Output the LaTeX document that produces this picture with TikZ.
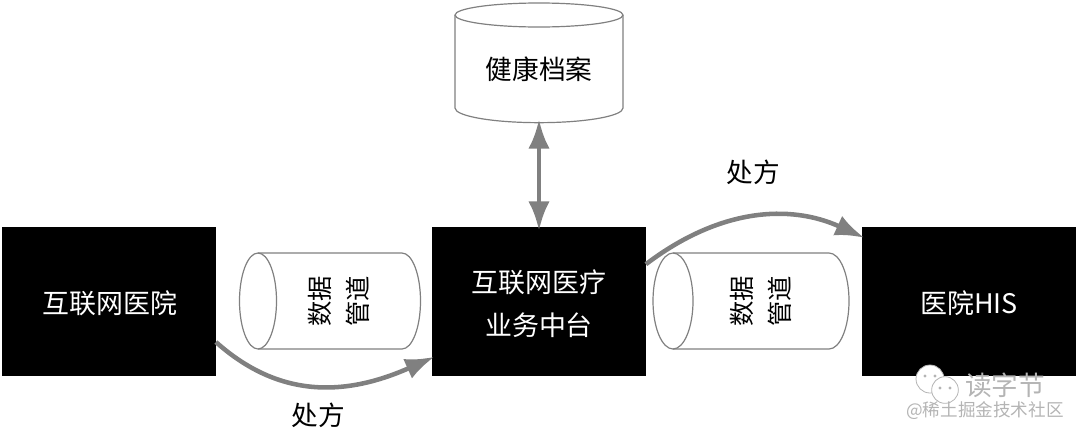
\documentclass[tikz,border=0pt]{standalone}
\usepackage{fontspec}
\setmainfont{Noto Sans CJK SC}
\usepackage{tikz}
\usetikzlibrary{arrows.meta}
\definecolor{flowgray}{HTML}{808080}
\definecolor{markgray}{HTML}{B4B4B4}

\begin{document}
\begin{tikzpicture}[x=0.75pt,y=-0.75pt,
    blackbox/.style={rectangle,draw=black,fill=black,minimum width=160pt,minimum height=111pt,inner sep=0pt},
    boxtext/.style={text=white,align=center,font=\fontsize{20.2}{32}\selectfont},
    frame/.style={rectangle,inner sep=0pt},
    outline/.style={draw=flowgray,line width=0.9pt},
    flow/.style={draw=flowgray,line width=3.4pt},
    label/.style={font=\fontsize{20}{24}\selectfont},
    pipetext/.style={rotate=90,align=center,font=\fontsize{19}{29}\selectfont},
    bubble/.style={circle,fill=white,draw=markgray,line width=0.6pt,inner sep=0pt,minimum size=#1}]
\useasboundingbox (0,0) rectangle (1080,436);
\node[blackbox] (hospital) at (109,301) {};
\node[blackbox] (platform) at (539,301) {};
\node[blackbox] (his) at (969,301) {};
\node[boxtext] (hospitaltext) at (110,303) {互联网医院};
\node[boxtext] (platformtext) at (539,304) {互联网医疗\\业务中台};
\node[boxtext] (histext) at (969,303) {医院HIS};
\node[frame,minimum width=126pt,minimum height=90pt] (records) at (539,63) {};
\node[label] (recordstext) at (539,69) {健康档案};
% the three cylinders
\draw[outline] (455,15) -- (455,108) arc[start angle=180,end angle=360,x radius=63pt,y radius=11pt] -- (623,15);
\draw[outline] (539,15) ellipse[x radius=63pt,y radius=9pt];
\foreach \a/\b/\r in {258/402/18.5,673/829/20}{
    \draw[outline] (\a,253) -- (\b,253) arc[start angle=90,end angle=-90,x radius=\r*0.75pt,y radius=36pt] -- (\a,349);
    \draw[outline] (\a,301) ellipse[x radius=\r*0.75pt,y radius=36pt];
}
\node[pipetext] (pipe1text) at (339,301) {数据\\管道};
\node[pipetext] (pipe2text) at (761,301) {数据\\管道};
\node[label] (rxtop) at (753,172) {处方};
\node[label] (rxbottom) at (318,415) {处方};
\draw[flow,{Latex[length=22pt,width=16pt]}-{Latex[length=22pt,width=16pt]},shorten <=-3pt,shorten >=-3pt] (records.south) -- (platform.north);
\draw[flow,-{Latex[length=22pt,width=16pt]},shorten >=-2pt] (hospital.-21) .. controls (272,392) and (335,401) .. (platform.208);
\draw[flow,-{Latex[length=22pt,width=16pt]},shorten >=-2pt] (platform.19) .. controls (720,208) and (790,204) .. (his.149);
% watermark
\node[bubble=21pt] (chat1) at (930,379) {};
\node[bubble=20pt] (chat2) at (945,390) {};
\foreach \x/\y in {925/376,935/376,940/388,950/388}
    \fill[markgray] (\x,\y) circle (1.2pt);
\node[text=markgray,font=\fontsize{20}{22}\selectfont] (brand) at (1005,385) {读字节};
\node[text=markgray,font=\fontsize{13.2}{15}\selectfont] (site) at (985,411) {@稀土掘金技术社区};
\end{tikzpicture}
\end{document}
